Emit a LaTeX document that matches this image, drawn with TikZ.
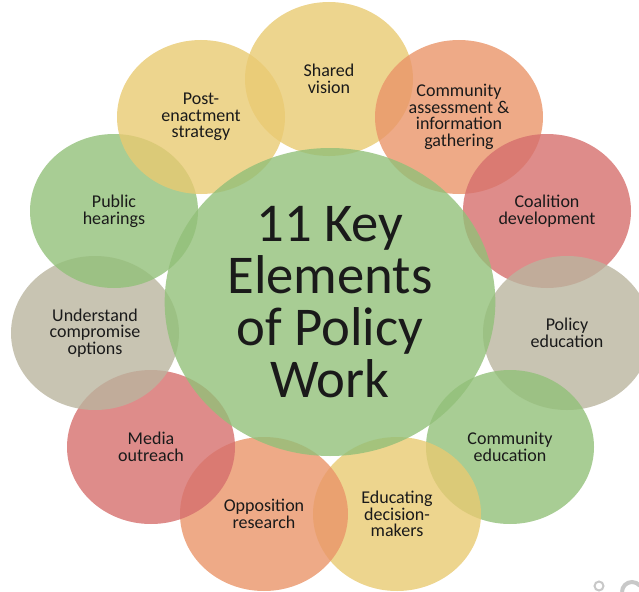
\documentclass[tikz,border=0pt]{standalone}
\usepackage{fontspec}
\setmainfont{Carlito}
\usetikzlibrary{shapes.geometric}
\definecolor{cyellow}{HTML}{E9CA72}
\definecolor{cgreen}{HTML}{92C079}
\definecolor{csalmon}{HTML}{EA9569}
\definecolor{cred}{HTML}{D66F6D}
\definecolor{cgray}{HTML}{BAB59F}
\definecolor{cink}{HTML}{1A1A1A}
\definecolor{cmark}{HTML}{C8C8C8}
\begin{document}
\begin{tikzpicture}[x=0.75pt, y=-0.75pt,
  petal/.style={ellipse, inner sep=0pt, minimum width=126pt, minimum height=115.5pt,
    fill opacity=0.8, text opacity=1, text=cink, align=center,
    font=\fontsize{13.5}{12.5}\selectfont},
  hub/.style={petal, minimum width=248pt, minimum height=231pt,
    font=\fontsize{41}{39}\selectfont}]
\useasboundingbox (0,0) rectangle (639,592);
% the ring of eleven elements, clockwise from the top
\node[petal, fill=cyellow] (vision) at (329,79) {Shared\\vision};
\node[petal, fill=csalmon] (assess) at (459,117) {Community\\assessment \&\\information\\gathering};
\node[petal, fill=cred] (coalition) at (547,211) {Coalition\\development};
\node[petal, fill=cgray] (poled) at (567,333) {Policy\\education};
\node[petal, fill=cgreen] (comed) at (510,447) {Community\\education};
\node[petal, fill=cyellow] (decision) at (397,514) {Educating\\decision-\\makers};
\node[petal, fill=csalmon] (opposition) at (264,514) {Opposition\\research};
\node[petal, fill=cred] (media) at (151,447) {Media\\outreach};
\node[petal, fill=cgray] (compromise) at (95,333) {Understand\\compromise\\options};
\node[petal, fill=cgreen] (hearings) at (114,211) {Public\\hearings};
\node[petal, fill=cyellow] (enact) at (201,117) {Post-\\enactment\\strategy};
% the centre
\node[hub, fill=cgreen] (key) at (330,302) {11 Key\\Elements\\of Policy\\Work};
% marks in the corner
\draw[cmark, line width=1.5pt] (599,586) circle (4.5);
\draw[cmark, line width=3pt] (632,592) +(180:10) arc[start angle=180, end angle=320, radius=10];
\end{tikzpicture}
\end{document}
